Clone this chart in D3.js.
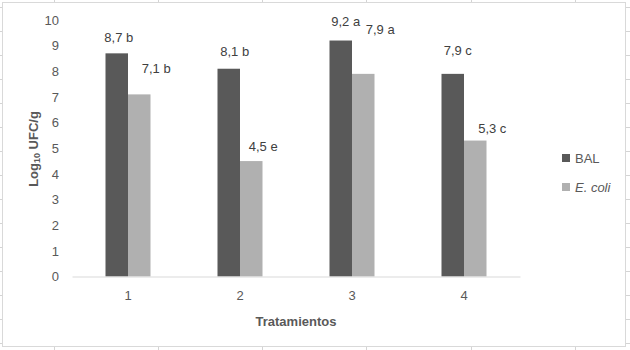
<!DOCTYPE html>
<html><head><meta charset="utf-8">
<script src="https://cdn.jsdelivr.net/npm/d3@7"></script>
<style>body{margin:0;background:#fff}svg{display:block}text{font-family:"Liberation Sans",Arial,sans-serif}</style>
</head><body>
<svg id="c" width="630" height="350"></svg>
<script>
const categories = ["1","2","3","4"];
const seriesNames = ["BAL","E. coli"];
const balValues = [8.7, 8.1, 9.2, 7.9];
const ecoliValues = [7.1, 4.5, 7.9, 5.3];
const balLetters = ["b","b","a","c"];
const ecoliLetters = ["b","e","a","c"];
const yTicks = [0,1,2,3,4,5,6,7,8,9,10];
const colors = ["#595959","#b0b0b0"];

// manual label placement (layout only, pixels relative to bar top centre)
const labelShift = [
  [{dx:2,dy:-11.5},{dx:17,dy:-21.5}],
  [{dx:6,dy:-12.5},{dx:12,dy:-10.5}],
  [{dx:5,dy:-15},{dx:17,dy:-39.5}],
  [{dx:5,dy:-18.5},{dx:17,dy:-8}]
];

const svg = d3.select("#c");
// sheet cell grid marks outside chart frame
const gridG = svg.append("g").attr("stroke","#d4d4d4").attr("stroke-width",1);
const colX = [54,158,262,366,471,575];
colX.forEach(x=>{
  gridG.append("line").attr("x1",x+0.5).attr("x2",x+0.5).attr("y1",0).attr("y2",3);
  gridG.append("line").attr("x1",x+0.5).attr("x2",x+0.5).attr("y1",346).attr("y2",350);
});
for(let y=7;y<350;y+=24){
  gridG.append("line").attr("x1",0).attr("x2",3).attr("y1",y+0.5).attr("y2",y+0.5);
  gridG.append("line").attr("x1",625).attr("x2",630).attr("y1",y+0.5).attr("y2",y+0.5);
}
svg.append("rect").attr("x",2.5).attr("y",2.5).attr("width",623).attr("height",344)
  .attr("fill","#fff").attr("stroke","#d9d9d9");

const x0 = d3.scaleBand().domain(categories).range([72,520]).paddingInner(0).paddingOuter(0);
const groupW = 45;
const x1 = d3.scaleBand().domain(seriesNames).range([0,groupW]);
const y = d3.scaleLinear().domain([0,10]).range([276.5,20]);

// y axis labels
const yAxis = d3.axisLeft(y).tickValues(yTicks).tickSize(0).tickPadding(0);
const ya = svg.append("g").attr("transform","translate(59,0)").call(yAxis);
ya.select(".domain").remove();
ya.selectAll("text").attr("fill","#595959").style("font-size","13px").style("font-family","Liberation Sans, Arial, sans-serif");

// bars
const data = categories.map((c,i)=>({c, vals:[
  {s:seriesNames[0], v:balValues[i], l:balLetters[i], sh:labelShift[i][0]},
  {s:seriesNames[1], v:ecoliValues[i], l:ecoliLetters[i], sh:labelShift[i][1]}]}));
const g = svg.append("g");
const grp = g.selectAll("g.grp").data(data).enter().append("g")
  .attr("transform",d=>`translate(${x0(d.c)+x0.bandwidth()/2-groupW/2},0)`);
grp.selectAll("rect").data(d=>d.vals).enter().append("rect")
  .attr("x",d=>x1(d.s)).attr("width",x1.bandwidth())
  .attr("y",d=>y(d.v)).attr("height",d=>y(0)-y(d.v))
  .attr("fill",(d,i)=>colors[i]);
grp.selectAll("text").data(d=>d.vals).enter().append("text")
  .attr("x",d=>x1(d.s)+x1.bandwidth()/2+d.sh.dx).attr("y",d=>y(d.v)+d.sh.dy)
  .attr("text-anchor","middle").attr("fill","#404040").style("font-size","13px")
  .text(d=>d3.format(".1f")(d.v).replace(".",",")+" "+d.l);

// x axis
const xAxis = d3.axisBottom(x0).tickSize(0).tickPadding(14);
const xa = svg.append("g").attr("transform","translate(0,276.5)").call(xAxis);
xa.select(".domain").attr("stroke","#d9d9d9");
xa.selectAll("text").attr("fill","#595959").style("font-size","13px").style("font-family","Liberation Sans, Arial, sans-serif");

// axis titles
svg.append("text").attr("x",296).attr("y",326).attr("text-anchor","middle")
  .attr("fill","#595959").style("font-size","13px").style("font-weight","bold").text("Tratamientos");
const yt = svg.append("text").attr("transform","translate(38,149) rotate(-90)").attr("text-anchor","middle")
  .attr("fill","#595959").style("font-size","13px").style("font-weight","bold");
yt.append("tspan").text("Log");
yt.append("tspan").style("font-size","9px").attr("dy",2).text("10");
yt.append("tspan").attr("dy",-2).text(" UFC/g");

// legend
const leg = svg.append("g").selectAll("g").data(seriesNames).enter().append("g")
  .attr("transform",(d,i)=>`translate(562,${154+i*29})`);
leg.append("rect").attr("width",8).attr("height",8).attr("fill",(d,i)=>colors[i]);
leg.append("text").attr("x",13).attr("y",8.5).attr("fill","#595959").style("font-size","13px")
  .style("font-style",(d,i)=>i===1?"italic":"normal").text(d=>d);
</script>
</body></html>
